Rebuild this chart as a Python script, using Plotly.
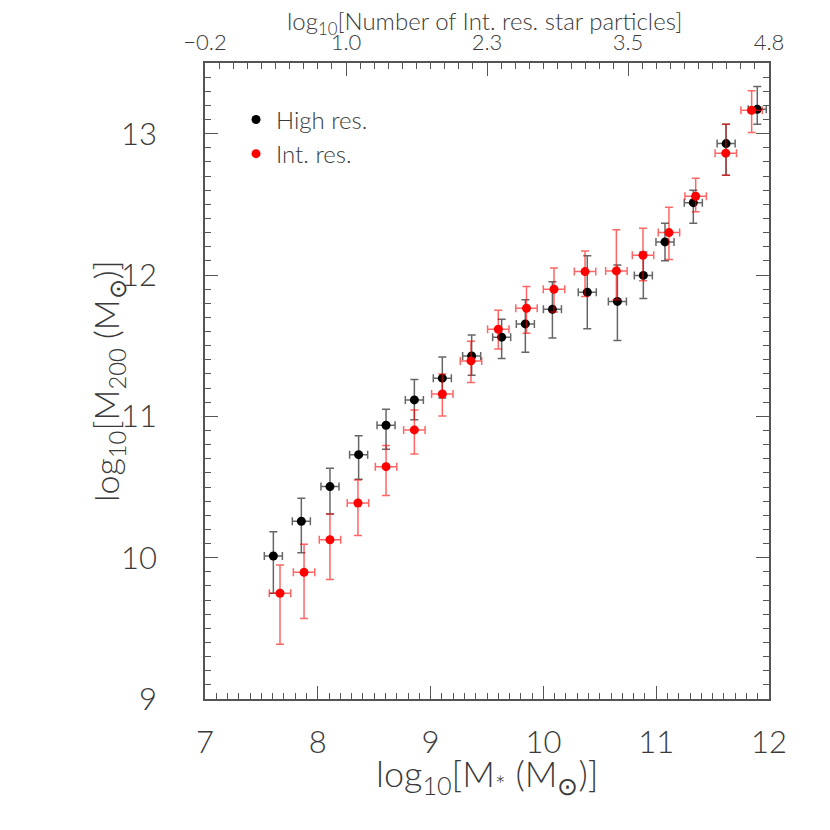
import plotly.graph_objects as go

# High res. haloes
hi_x = [7.606, 7.854, 8.108, 8.362, 8.605, 8.856, 9.104, 9.364, 9.630, 9.840, 10.080, 10.389, 10.656, 10.886, 11.078, 11.329, 11.620, 11.896]
hi_y = [10.012, 10.258, 10.503, 10.729, 10.937, 11.116, 11.270, 11.427, 11.560, 11.654, 11.757, 11.878, 11.813, 11.997, 12.234, 12.512, 12.930, 13.172]
hi_up = [10.184, 10.420, 10.633, 10.863, 11.050, 11.260, 11.420, 11.576, 11.687, 11.824, 11.953, 12.137, 12.070, 12.163, 12.367, 12.600, 13.067, 13.333]
hi_lo = [9.748, 10.035, 10.309, 10.555, 10.767, 10.975, 11.130, 11.290, 11.410, 11.453, 11.555, 11.619, 11.536, 11.833, 12.100, 12.366, 12.706, 13.067]
hi_xerr = 0.08

# Int. res. haloes
int_x = [7.665, 7.878, 8.108, 8.356, 8.605, 8.856, 9.104, 9.358, 9.600, 9.850, 10.094, 10.369, 10.647, 10.883, 11.113, 11.350, 11.617, 11.846]
int_y = [9.748, 9.896, 10.127, 10.387, 10.644, 10.904, 11.158, 11.392, 11.616, 11.765, 11.899, 12.024, 12.029, 12.140, 12.300, 12.557, 12.862, 13.165]
int_up = [9.948, 10.095, 10.309, 10.550, 10.793, 11.045, 11.300, 11.531, 11.750, 11.918, 12.050, 12.170, 12.320, 12.330, 12.480, 12.685, 13.067, 13.304]
int_lo = [9.387, 9.570, 9.845, 10.156, 10.440, 10.734, 11.003, 11.240, 11.477, 11.588, 11.739, 11.848, 11.824, 11.960, 12.110, 12.447, 12.706, 13.008]
int_xerr = 0.095

top_vals = [-0.2, 1.05, 2.3, 3.55, 4.8]
top_text = ["\u22120.2", "1.0", "2.3", "3.5", "4.8"]

FONT = "Lato"
TXT = "#3a3a3a"
AX = "#555555"


def err(y, up, lo):
    return dict(type="data", symmetric=False,
                array=[u - v for u, v in zip(up, y)],
                arrayminus=[v - l for v, l in zip(y, lo)])


def label(text, x, y, size, angle=0):
    return dict(text=text, xref="paper", yref="paper", x=x, y=y,
                xanchor="center", yanchor="middle", textangle=angle, showarrow=False,
                font=dict(family=FONT, size=size, color=TXT, weight=300))


fig = go.Figure()
fig.add_trace(go.Scatter(
    x=hi_x, y=hi_y, mode="markers", name="High res.",
    marker=dict(color="black", size=9),
    error_y=dict(**err(hi_y, hi_up, hi_lo), color="rgba(0,0,0,0.6)", thickness=1.5, width=4),
    error_x=dict(type="constant", value=hi_xerr, color="rgba(0,0,0,0.6)", thickness=1.5, width=4),
))
fig.add_trace(go.Scatter(
    x=int_x, y=int_y, mode="markers", name="Int. res.",
    marker=dict(color="red", size=9),
    error_y=dict(**err(int_y, int_up, int_lo), color="rgba(255,0,0,0.6)", thickness=1.5, width=4),
    error_x=dict(type="constant", value=int_xerr, color="rgba(255,0,0,0.6)", thickness=1.5, width=4),
))
# empty trace so the top axis gets drawn
fig.add_trace(go.Scatter(x=[], y=[], xaxis="x2", showlegend=False, hoverinfo="skip"))

tickfont = dict(family=FONT, size=31, color=TXT, weight=300)
fig.update_layout(
    width=830, height=830,
    margin=dict(l=197, r=69, t=55, b=139, autoexpand=False),
    paper_bgcolor="white", plot_bgcolor="white",
    showlegend=True,
    legend=dict(x=0.055, y=0.946, xanchor="left", yanchor="top",
                font=dict(family=FONT, size=24, color=TXT, weight=300),
                bgcolor="rgba(0,0,0,0)", itemwidth=30, tracegroupgap=0),
    xaxis=dict(
        range=[7, 12], tickvals=[7, 8, 9, 10, 11, 12], automargin=False,
        ticks="inside", ticklen=13, tickwidth=1.2, tickcolor=AX,
        minor=dict(ticks="inside", dtick=0.1, tick0=7, ticklen=6, tickcolor=AX, tickwidth=1),
        showline=True, linecolor=AX, linewidth=1.5, showgrid=False, zeroline=False,
        tickfont=tickfont, ticklabelstandoff=15,
    ),
    xaxis2=dict(
        overlaying="x", side="top", range=[-0.2, 4.8], automargin=False,
        tickmode="array", tickvals=top_vals, ticktext=top_text,
        ticks="inside", ticklen=13, tickwidth=1.2, tickcolor=AX,
        minor=dict(ticks="inside", dtick=0.125, tick0=-0.2, ticklen=6, tickcolor=AX, tickwidth=1),
        showline=True, linecolor=AX, linewidth=1.5, showgrid=False, zeroline=False,
        tickfont=dict(family=FONT, size=22, color=TXT, weight=300), ticklabelstandoff=2,
    ),
    yaxis=dict(
        range=[9, 13.5], tickvals=[9, 10, 11, 12, 13], automargin=False,
        ticks="inside", ticklen=13, tickwidth=1.2, tickcolor=AX,
        minor=dict(ticks="inside", dtick=0.1, tick0=9, ticklen=6, tickcolor=AX, tickwidth=1),
        showline=True, linecolor=AX, linewidth=1.5, mirror="ticks",
        showgrid=False, zeroline=False,
        tickfont=tickfont, ticklabelstandoff=40,
    ),
    annotations=[
        label("log<sub>10</sub>[M<sub>200</sub> (M<sub>\u2299</sub>)]", -0.172, 0.5, 34, angle=-90),
        label("log<sub>10</sub>[M<sub>*</sub> (M<sub>\u2299</sub>)]", 0.5, -0.12, 36),
        label("log<sub>10</sub>[Number of Int. res. star particles]", 0.496, 1.063, 24),
    ],
)

fig.write_html("out.html")
